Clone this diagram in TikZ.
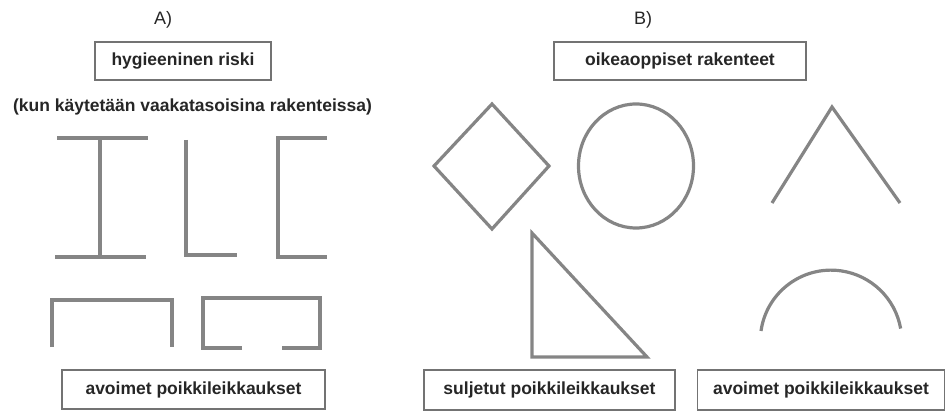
\documentclass[tikz,border=0pt]{standalone}
\usepackage{fontspec}
\setmainfont{Liberation Sans}
\begin{document}
\begin{tikzpicture}[x=1pt,y=-1pt,
  lbl/.style={font=\bfseries\fontsize{17.5}{20}\selectfont, text=black!85, inner sep=0pt},
  head/.style={font=\fontsize{18}{20}\selectfont, text=black!85, inner sep=0pt},
  tagbox/.style={lbl, draw=black!55, line width=1.6pt, inner sep=0pt},
  profile/.style={draw=black!48, line width=3.2pt, line cap=butt, line join=miter}]
\useasboundingbox (0,0) rectangle (947,411);
% headings
\node[head] (hA) at (163,20) {A)};
\node[head] (hB) at (643,20) {B)};
% label boxes
\node[tagbox, minimum width=176, minimum height=38] (hyg) at (183,61) {hygieeninen riski};
\node[lbl] (kun) at (192.5,107) {(kun käytetään vaakatasoisina rakenteissa)};
\node[tagbox, minimum width=263, minimum height=39] (avA) at (193.5,389.5) {avoimet poikkileikkaukset};
\node[tagbox, minimum width=252, minimum height=38] (oik) at (680,61) {oikeaoppiset rakenteet};
\node[tagbox, minimum width=251, minimum height=40] (sul) at (549.5,390) {suljetut poikkileikkaukset};
\node[tagbox, minimum width=247, minimum height=40] (avB) at (821,390) {avoimet poikkileikkaukset};
% A: I-beam
\draw[profile] (57,138) -- (148,138);
\draw[profile] (55,257) -- (146,257);
\draw[profile] (100,138) -- (100,257);
% L
\draw[profile] (186,140) -- (186,255) -- (237,255);
% C
\draw[profile] (327,138) -- (278,138) -- (278,257) -- (327,257);
% hat (open)
\draw[profile] (52,347) -- (52,300) -- (172,300) -- (172,347);
% lipped C
\draw[profile] (242,348) -- (203,348) -- (203,298) -- (320,298) -- (320,348) -- (282,348);
% B: diamond
\draw[profile] (492,104) -- (549,166) -- (492,229) -- (434,166) -- cycle;
% circle
\draw[profile] (636,166) ellipse [x radius=57.5, y radius=62];
% roof
\draw[profile] (772,203) -- (832,107) -- (900,203);
% triangle
\draw[profile] (532,233) -- (532,357) -- (647,357) -- cycle;
% arc
\draw[profile] (761,331) arc[start angle=-172, end angle=-10, radius=70.7];
\end{tikzpicture}
\end{document}
